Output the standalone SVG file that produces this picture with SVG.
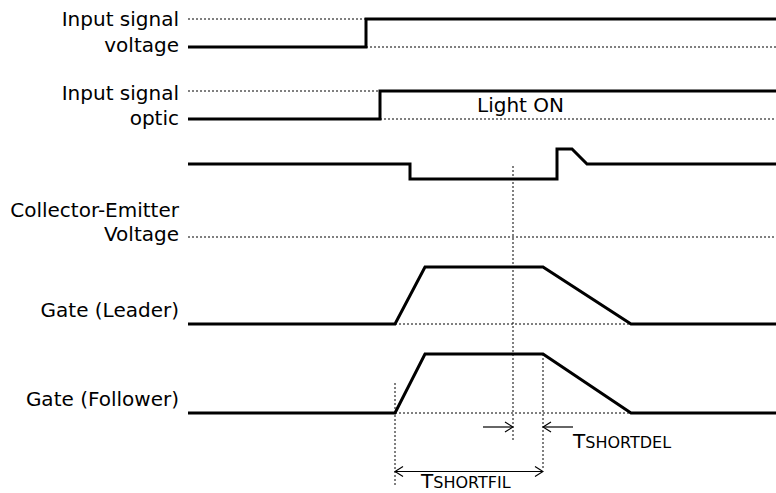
<svg xmlns="http://www.w3.org/2000/svg" width="776" height="493" viewBox="0 0 776 493">
<style>
  text { font-family: "DejaVu Sans", Verdana, sans-serif; font-size: 20px; fill: #000; }
  .lbl { text-anchor: end; }
  .wave { fill: none; stroke: #000; stroke-width: 3; stroke-linejoin: miter; }
  .dot { fill: none; stroke: #000; stroke-width: 1; stroke-dasharray: 2 2; }
  .dim { fill: none; stroke: #000; stroke-width: 1.2; }
  .sc { font-size: 16px; }
</style>
<defs>
  <marker id="ah" viewBox="0 0 10 12" refX="9" refY="6" markerWidth="10" markerHeight="12" markerUnits="userSpaceOnUse" orient="auto-start-reverse">
    <path d="M1,1 L9,6 L1,11" fill="none" stroke="#000" stroke-width="1.2"/>
  </marker>
</defs>
<rect width="776" height="493" fill="#fff"/>

<g id="input-voltage">
  <text class="lbl" x="179" y="26">Input signal</text>
  <text class="lbl" x="179" y="52">voltage</text>
  <path class="dot" d="M188,19 H366 M366,47 H776"/>
  <path class="wave" d="M188,47 H366 V19 H776"/>
</g>

<g id="input-optic">
  <text class="lbl" x="179" y="99.5">Input signal</text>
  <text class="lbl" x="179" y="124.5">optic</text>
  <text x="477" y="112">Light ON</text>
  <path class="dot" d="M188,91 H380 M380,119 H776"/>
  <path class="wave" d="M188,119 H380 V91 H776"/>
</g>

<g id="collector-emitter">
  <text class="lbl" x="179" y="217">Collector-Emitter</text>
  <text class="lbl" x="179" y="240.5">Voltage</text>
  <path class="dot" d="M188,237 H776"/>
  <path class="wave" d="M188,164 H410 V179 H557 V149 H572 L587,164 H776"/>
</g>

<g id="gate-leader">
  <text class="lbl" x="179" y="317">Gate (Leader)</text>
  <path class="dot" d="M395,324 H631"/>
  <path class="wave" d="M188,324 H395 L425,267 H543 L631,324 H776"/>
</g>

<g id="gate-follower">
  <text class="lbl" x="179" y="406">Gate (Follower)</text>
  <path class="dot" d="M395,413 H631"/>
  <path class="wave" d="M188,413 H395 L425,354 H543 L631,413 H776"/>
</g>

<g id="connectors">
  <path class="dot" d="M513,166 V442"/>
  <path class="dot" d="M395,383 V485"/>
  <path class="dot" d="M543,354 V470"/>
  <path class="dim" d="M483,427 H513" marker-end="url(#ah)"/>
  <path class="dim" d="M573,427 H543" marker-end="url(#ah)"/>
  <path class="dim" d="M395,471.5 H543" marker-start="url(#ah)" marker-end="url(#ah)"/>
</g>

<g id="tshortdel">
  <text x="573" y="448">T<tspan class="sc">SHORTDEL</tspan></text>
</g>
<g id="tshortfil">
  <text x="421" y="488">T<tspan class="sc">SHORTFIL</tspan></text>
</g>
</svg>
